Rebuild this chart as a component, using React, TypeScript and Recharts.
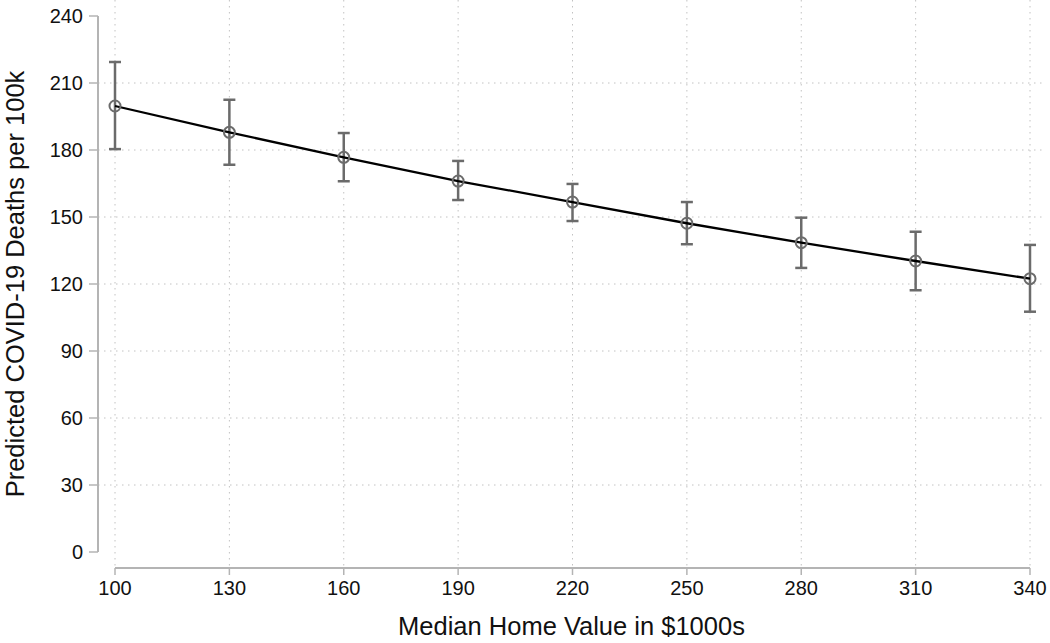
import { ComposedChart, Line, XAxis, YAxis, CartesianGrid, ErrorBar, ReferenceLine, Label } from 'recharts';

// median home value ($1000s)
const homeValues = [100, 130, 160, 190, 220, 250, 280, 310, 340];
// predicted deaths per 100k + 95% CI
const predicted = [199.7, 187.9, 176.7, 166.1, 156.7, 147.2, 138.5, 130.3, 122.4];
const ciLower = [180.4, 173.4, 166.0, 157.6, 148.2, 137.8, 127.2, 117.2, 107.6];
const ciUpper = [219.4, 202.5, 187.6, 175.1, 164.8, 156.7, 149.7, 143.4, 137.5];

const xTicks = [100, 130, 160, 190, 220, 250, 280, 310, 340];
const yTicks = [0, 30, 60, 90, 120, 150, 180, 210, 240];
const yGridLines = [30, 60, 90, 120, 150, 180, 210];

const FONT = '"Liberation Sans", Arial, Helvetica, sans-serif';
const AXIS_GRAY = '#b4b4b4';
const MARK_GRAY = '#6b6b6b';
const X_PAD = 17;
const Y_PAD = 16;

const data = homeValues.map((x, i) => ({
  x,
  y: predicted[i],
  ci: [predicted[i] - ciLower[i], ciUpper[i] - predicted[i]],
}));

export default function App() {
  return (
    <div style={{ position: 'absolute', left: 0, top: 0, background: '#fff' }}>
      <ComposedChart
        width={1050}
        height={643}
        data={data}
        margin={{ top: 0, right: 5, bottom: 0, left: 0 }}
        style={{ fontFamily: FONT }}
      >
        <CartesianGrid
          stroke="#c2c2c2"
          strokeDasharray="1.5 4.5"
          horizontalValues={yGridLines}
          verticalValues={xTicks}
        />
        <XAxis
          type="number"
          dataKey="x"
          domain={[100, 340]}
          ticks={xTicks}
          padding={{ left: X_PAD, right: X_PAD - 2 }}
          height={75}
          axisLine={false}
          tickLine={{ stroke: AXIS_GRAY, strokeWidth: 1.5 }}
          tickSize={7}
          tickMargin={6}
          tick={{ fill: '#111', fontSize: 20 }}
        >
          <Label
            content={({ viewBox }: any) => (
              <text
                x={viewBox.x + viewBox.width / 2}
                y={635}
                textAnchor="middle"
                fontSize={25.5}
                fill="#111"
                fontFamily={FONT}
              >
                Median Home Value in $1000s
              </text>
            )}
          />
        </XAxis>
        <YAxis
          type="number"
          domain={[0, 240]}
          ticks={yTicks}
          padding={{ top: Y_PAD, bottom: Y_PAD }}
          width={98}
          axisLine={false}
          tickLine={{ stroke: AXIS_GRAY, strokeWidth: 1.5 }}
          tickSize={9}
          tickMargin={6}
          tick={{ fill: '#111', fontSize: 20 }}
        >
          <Label
            content={({ viewBox }: any) => {
              const cy = viewBox.y + viewBox.height / 2;
              return (
                <text
                  x={24}
                  y={cy}
                  transform={`rotate(-90, 24, ${cy})`}
                  textAnchor="middle"
                  fontSize={25.5}
                  fill="#111"
                  fontFamily={FONT}
                >
                  Predicted COVID-19 Deaths per 100k
                </text>
              );
            }}
          />
        </YAxis>

        {/* Stata-style detached axis lines */}
        <ReferenceLine
          segment={[{ x: 100, y: 0 }, { x: 340, y: 0 }]}
          shape={(p: any) => (
            <line x1={p.x1} y1={p.y1 + Y_PAD} x2={p.x2} y2={p.y2 + Y_PAD} stroke={AXIS_GRAY} strokeWidth={2} />
          )}
        />
        <ReferenceLine
          segment={[{ x: 100, y: 0 }, { x: 100, y: 240 }]}
          shape={(p: any) => (
            <line x1={p.x1 - X_PAD} y1={p.y1} x2={p.x2 - X_PAD} y2={p.y2} stroke={AXIS_GRAY} strokeWidth={2} />
          )}
        />

        <Line
          type="linear"
          dataKey="y"
          stroke="#000"
          strokeWidth={2.3}
          dot={{ r: 5.5, stroke: MARK_GRAY, strokeWidth: 2, fill: 'none' }}
          activeDot={false}
          isAnimationActive={false}
        >
          <ErrorBar
            dataKey="ci"
            direction="y"
            width={6}
            stroke={MARK_GRAY}
            strokeWidth={2.5}
            isAnimationActive={false}
          />
        </Line>
      </ComposedChart>
    </div>
  );
}
